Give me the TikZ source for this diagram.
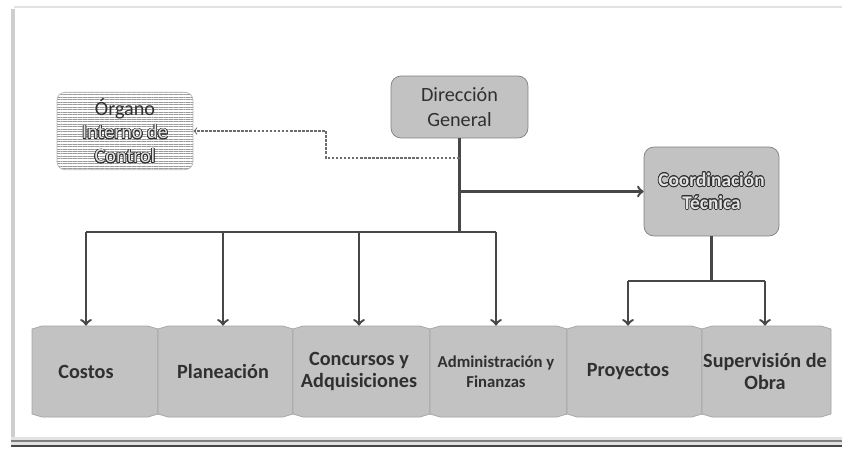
\documentclass[tikz,border=0pt]{standalone}
\usepackage{fontspec}
\setmainfont{Carlito}
\usepackage{contour}
\usetikzlibrary{patterns.meta}
\contourlength{0.45pt}
\definecolor{grisfondo}{HTML}{C2C2C2}
\definecolor{grislinea}{HTML}{474747}
\definecolor{gristexto}{HTML}{303030}
\definecolor{grisclaro}{HTML}{E2E2E2}
\newcommand{\realce}[1]{\contour{gristexto}{\textcolor{grisclaro}{#1}}}

\begin{document}
\begin{tikzpicture}[>=to,x=0.02cm,y=-0.02cm,
    caja/.style={fill=grisfondo,draw=grislinea!70,rounded corners=0.2cm,align=center,
        text=gristexto,font=\fontsize{11.5}{14.2}\selectfont},
    unidad/.style={align=center,text=gristexto,minimum height=1.82cm,
        font=\fontsize{11.5}{13}\selectfont\bfseries},
    linea/.style={grislinea,line width=1.4pt}]
    \useasboundingbox (0,0) rectangle (842,449);
    \draw[grisclaro,line width=0.6pt] (14,7) -- (842,7);
    \draw[grisfondo!80,line width=2.2pt] (13,9) -- (13,444);
    \fill[grisclaro] (11,437) rectangle (842,447);
    \draw[grislinea!70,line width=0.8pt] (11,441) -- (842,441);
    \draw[grislinea,line width=0.8pt] (11,446) -- (842,446);
    \foreach \xa/\xb in {32/158,158/293,293/430,430/567,567/702,702/831}
        \filldraw[fill=grisfondo,draw=grislinea!50,line width=0.4pt]
            (\xa,329) -- ({\xa+10},326) -- ({\xb-10},326) -- (\xb,329)
            -- (\xb,414) -- ({\xb-10},417) -- ({\xa+10},417) -- (\xa,414) -- cycle;
    \node[caja,minimum width=2.74cm,minimum height=1.24cm] (dg) at (459.5,107) {Dirección\\General};
    \node[caja,fill=white,pattern={Lines[angle=0,distance=1.4pt,line width=0.45pt]},
        pattern color=grislinea!55,draw=grislinea!40,rounded corners=0.16cm,
        minimum width=2.72cm,minimum height=1.44cm,font=\fontsize{11.5}{13.6}\selectfont]
        (oic) at (125,131) {Órgano\\\realce{Interno de}\\\realce{Control}};
    \node[caja,minimum width=2.7cm,minimum height=1.78cm,font=\fontsize{11}{13}\selectfont\bfseries]
        (ct) at (711.5,191.5) {\realce{Coordinación}\\\realce{Técnica}};
    \node[unidad] (costos) at (86,371.5) {Costos};
    \node[unidad] (planeacion) at (223,371.5) {Planeación};
    \node[unidad] (concursos) at (359,371.5) {Concursos y\\Adquisiciones};
    \node[unidad,font=\fontsize{9.5}{11.5}\selectfont\bfseries] (admin) at (496,371.5) {Administración y\\Finanzas};
    \node[unidad] (proyectos) at (628,371.5) {Proyectos};
    \node[unidad] (supervision) at (765,371.5) {Supervisión de\\Obra};
    \coordinate (bus) at (459.5,232);
    \coordinate (punteo) at (459.5,158);
    \coordinate (quiebre) at (326,131);
    \coordinate (subbus) at (711.5,281);
    \draw[linea] (dg.south) -- (bus);
    \draw[grislinea!80,line width=0.6pt,dash pattern=on 1.5pt off 0.8pt,->] (punteo) -| (quiebre) -- (oic.east);
    \draw[linea,->] (dg.south |- ct.west) -- (ct.west);
    \draw[linea] (costos.north |- bus) -- (admin.north |- bus);
    \foreach \n in {costos,planeacion,concursos,admin}
        \draw[linea,->] (\n.north |- bus) -- (\n.north);
    \draw[linea] (ct.south) -- (subbus);
    \draw[linea] (proyectos.north |- subbus) -- (supervision.north |- subbus);
    \foreach \n in {proyectos,supervision}
        \draw[linea,->] (\n.north |- subbus) -- (\n.north);
\end{tikzpicture}
\end{document}
